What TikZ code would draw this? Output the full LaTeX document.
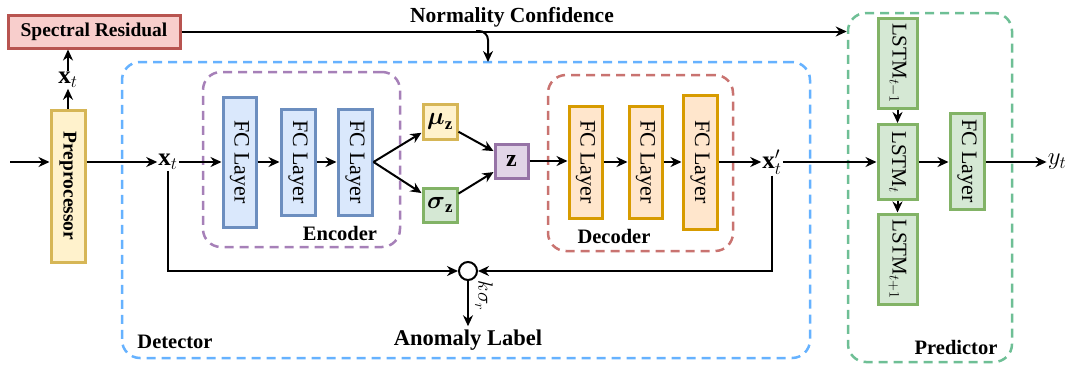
\documentclass[tikz,border=0pt]{standalone}
\usepackage{amsmath}
\usepackage{fontspec}
\setmainfont{Liberation Serif}
\usetikzlibrary{arrows.meta,calc}
\definecolor{yelF}{HTML}{FFF2CC}\definecolor{yelD}{HTML}{D6B656}
\definecolor{bluF}{HTML}{DAE8FC}\definecolor{bluD}{HTML}{6C8EBF}
\definecolor{oraF}{HTML}{FFE6CC}\definecolor{oraD}{HTML}{D79B00}
\definecolor{grnF}{HTML}{D5E8D4}\definecolor{grnD}{HTML}{82B366}
\definecolor{purF}{HTML}{E1D5E7}\definecolor{purD}{HTML}{9673A6}
\definecolor{redF}{HTML}{F8CECC}\definecolor{redD}{HTML}{B85450}
\definecolor{detC}{HTML}{66B2FF}
\definecolor{encC}{HTML}{A680B8}
\definecolor{decC}{HTML}{C97370}
\definecolor{preC}{HTML}{6EBF95}
\newcommand{\lbl}{\fontsize{20.5}{24}\selectfont\bfseries}
\newcommand{\rot}[1]{\rotatebox{-90}{#1}}
\begin{document}
\begin{tikzpicture}[x=1pt,y=-1pt,
  blk/.style={draw, line width=3pt, inner sep=0pt, font=\fontsize{22}{26}\selectfont},
  fcb/.style={blk, fill=bluF, draw=bluD},
  ylb/.style={blk, fill=yelF, draw=yelD},
  orb/.style={blk, fill=oraF, draw=oraD},
  gnb/.style={blk, fill=grnF, draw=grnD},
  grp/.style={draw, line width=2.5pt, rounded corners=18pt, dash pattern=on 9pt off 6pt, inner sep=0pt},
  arr/.style={-{Stealth[length=11pt,width=10pt]}, line width=2pt},
  mth/.style={inner sep=1pt, font=\fontsize{25}{30}\selectfont}]
\useasboundingbox (0,0) rectangle (1074,367);

% dashed groups
\node[grp, draw=detC, minimum width=688pt, minimum height=296pt] (det) at (466,210) {};
\node[grp, draw=preC, minimum width=164pt, minimum height=349pt] (pred) at (930,187.5) {};
\node[grp, draw=encC, minimum width=197pt, minimum height=175pt] (enc) at (301.5,159.5) {};
\node[grp, draw=decC, minimum width=185pt, minimum height=176pt] (dec) at (640.5,163) {};

% group labels
\node[font=\lbl] (detl) at (175,342) {Detector};
\node[font=\lbl] (encl) at (340,233) {Encoder};
\node[font=\lbl] (decl) at (614,236) {Decoder};
\node[font=\lbl] (predl) at (956,347) {Predictor};
\node[font=\fontsize{21.5}{24}\selectfont\bfseries] (ncl) at (512,17) {Normality Confidence};

% blocks
\node[blk, fill=redF, draw=redD, minimum width=172pt, minimum height=33pt, font=\fontsize{19.5}{24}\selectfont\bfseries] (sr) at (94,31.5) {Spectral Residual};
\node[ylb, minimum width=34pt, minimum height=152pt, font=\fontsize{19.5}{24}\selectfont\bfseries] (pre) at (68,186) {\rot{Preprocessor}};
\node[fcb, minimum width=33pt, minimum height=130pt] (fc1) at (239.5,162) {\rot{FC Layer}};
\node[fcb, minimum width=34pt, minimum height=106pt] (fc2) at (298,162) {\rot{FC Layer}};
\node[fcb, minimum width=34pt, minimum height=106pt] (fc3) at (355,162) {\rot{FC Layer}};
\node[ylb, minimum width=34pt, minimum height=35pt, font=\fontsize{24}{28}\selectfont] (mu) at (440,121.5) {$\boldsymbol{\mu}_{\mathbf{z}}$};
\node[gnb, minimum width=34pt, minimum height=34pt, font=\fontsize{24}{28}\selectfont] (sig) at (440,205) {$\boldsymbol{\sigma}_{\mathbf{z}}$};
\node[blk, fill=purF, draw=purD, minimum width=33pt, minimum height=34pt, font=\fontsize{24}{28}\selectfont] (z) at (511.5,161) {$\mathbf{z}$};
\node[orb, minimum width=33pt, minimum height=112pt] (d1) at (585.5,162) {\rot{FC Layer}};
\node[orb, minimum width=33pt, minimum height=112pt] (d2) at (645.5,162) {\rot{FC Layer}};
\node[orb, minimum width=34pt, minimum height=134pt] (d3) at (700,162) {\rot{FC Layer}};
\node[gnb, minimum width=39pt, minimum height=90pt, font=\fontsize{21}{26}\selectfont] (l1) at (897.5,63) {\rot{LSTM$_{t-1}$}};
\node[gnb, minimum width=39pt, minimum height=75pt, font=\fontsize{21}{26}\selectfont] (l2) at (897.5,162) {\rot{LSTM$_{t}$}};
\node[gnb, minimum width=39pt, minimum height=90pt, font=\fontsize{21}{26}\selectfont] (l3) at (897.5,259) {\rot{LSTM$_{t+1}$}};
\node[gnb, minimum width=34pt, minimum height=96pt] (pfc) at (967,161) {\rot{FC Layer}};

% signal labels
\node[mth] (xs) at (68,80) {$\mathbf{x}_t$};
\node[mth] (xt) at (168,162) {$\mathbf{x}_t$};
\node[mth] (xp) at (772,162) {$\mathbf{x}'_t$};
\node[mth] (yt) at (1057,162) {$y_t$};
\node[draw, circle, line width=2pt, minimum size=18pt, inner sep=0pt] (circ) at (468,271) {};
\node[font=\fontsize{22.5}{26}\selectfont\bfseries] (al) at (468,340) {Anomaly Label};
\node[mth, font=\fontsize{22}{26}\selectfont] (ks) at (484,296) {\rot{$k\sigma_r$}};

\coordinate (in) at (10,162);
\coordinate (nc) at (476,31);
\coordinate (ncd) at (488,62);

% connectors
\draw[arr] (in) -- (pre.west |- in);
\draw[arr] (pre.north) -- (xs.south);
\draw[arr] (xs.north) -- (xs.north |- sr.south);
\draw[arr] (sr.east) -- (sr.east -| pred.west);
\draw[arr, rounded corners=9pt] (nc) -| (ncd);
\draw[arr] (pre.east |- xt) -- (xt.west);
\draw[arr] (xt.east) -- (fc1.west);
\draw[arr] (fc1) -- (fc2);
\draw[arr] (fc2) -- (fc3);
\draw[arr] (fc3.east) -- (mu);
\draw[arr] (fc3.east) -- (sig);
\draw[arr] (mu) -- (z);
\draw[arr] (sig) -- (z);
\draw[arr] (z.east) -- (d1.west |- z.east);
\draw[arr] (d1) -- (d2);
\draw[arr] (d2) -- (d3);
\draw[arr] (d3.east) -- (xp.west);
\draw[arr] (xp.east) -- (l2.west);
\draw[arr] (l1) -- (l2);
\draw[arr] (l2) -- (l3);
\draw[arr] (l2) -- (pfc.west |- l2);
\draw[arr] (pfc.east |- l2) -- (yt.west);
\draw[arr] (xt.south) |- (circ.west);
\draw[arr] (xp.south) |- (circ.east);
\draw[arr] (circ.south) -- (al.north);
\end{tikzpicture}
\end{document}
